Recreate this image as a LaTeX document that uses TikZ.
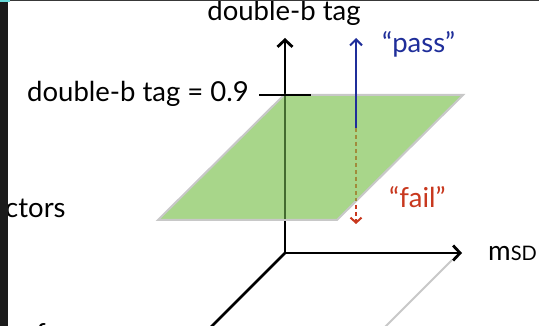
\documentclass[tikz,border=0pt]{standalone}
\usepackage{fontspec}
\setmainfont{Lato}
\usetikzlibrary{arrows.meta}
\definecolor{planegreen}{HTML}{A8D68A}
\definecolor{planeedge}{HTML}{C8C8C8}
\definecolor{passblue}{HTML}{1F2E9A}
\definecolor{failred}{HTML}{C8381E}
\definecolor{axisgreen}{HTML}{436B30}
\definecolor{olive}{HTML}{A08C3C}
\definecolor{barcol}{HTML}{1B1B1B}
\tikzset{
  axis/.style={line width=2.8pt, -{Straight Barb[length=7pt,width=15pt,line width=2.8pt]}},
  lbl/.style={inner sep=0pt, anchor=base west, font=\fontsize{27.5}{30}\selectfont},
  passarrow/.style={passblue, line width=2pt, -{Straight Barb[length=6pt,width=12pt,line width=2pt]}},
  failarrow/.style={failred, line width=2pt, dash pattern=on 4pt off 3pt, -{Straight Barb[length=5pt,width=11pt,line width=2pt]}},
}
\begin{document}
\begin{tikzpicture}[x=1pt,y=-1pt]
\useasboundingbox (0,0) rectangle (539,326);
\fill[white] (0,0) rectangle (539,326);
% coordinates
\coordinate (O) at (285,253);
\coordinate (ztip) at (285,38);
\coordinate (xtip) at (462,253);
\coordinate (yend) at (200,338);
\coordinate (g1) at (452,260);
\coordinate (g2) at (382,330);
\coordinate (p1) at (158,220);
\coordinate (p2) at (337,220);
\coordinate (p3) at (463,95);
\coordinate (p4) at (284,95);
\coordinate (t1) at (259,95);
\coordinate (t2) at (311,95);
\coordinate (a0) at (356,128);
\coordinate (atop) at (356,38);
\coordinate (abot) at (356,224);
\coordinate (aedge) at (356,201);
\coordinate (zin1) at (285,96);
\coordinate (zin2) at (285,219);
% axes
\draw[line width=2.8pt] (O) -- (yend);
\draw[axis] (O) -- (xtip);
\draw[axis] (O) -- (ztip);
\draw[planeedge, line width=2pt] (g1) -- (g2);
% fail arrow
\draw[failarrow] (a0) -- (abot);
% plane
\draw[planeedge, line width=2pt, fill=planegreen] (p1) -- (p2) -- (p3) -- (p4) -- cycle;
\draw[axisgreen, line width=2.8pt] (zin1) -- (zin2);
\draw[olive, line width=2pt, dash pattern=on 4pt off 3pt] (a0) -- (aedge);
% tick
\draw[line width=2pt] (t1) -- (t2);
% pass arrow
\draw[passarrow] (a0) -- (atop);
% labels
\node[lbl, anchor=base] (zlab) at (284,21) {double-b tag};
\node[lbl] (cut) at (27,102) {double-b tag = 0.9};
\node[lbl, text=passblue] (pass) at (382,53) {“pass”};
\node[lbl, text=failred] (fail) at (389,208) {“fail”};
\node[lbl] (xlab) at (488,261) {m{\fontsize{20}{22}\selectfont SD}};
\node[lbl] (ctors) at (5,218) {ctors};
\node[lbl] (frag) at (36,343) {f};
% frame of screenshot
\fill[barcol] (0,0) rectangle (8,326);
\fill[black!78] (8,0) rectangle (539,1.5);
\fill[teal!50!cyan!60] (0,0) rectangle (10,2);
\end{tikzpicture}
\end{document}
